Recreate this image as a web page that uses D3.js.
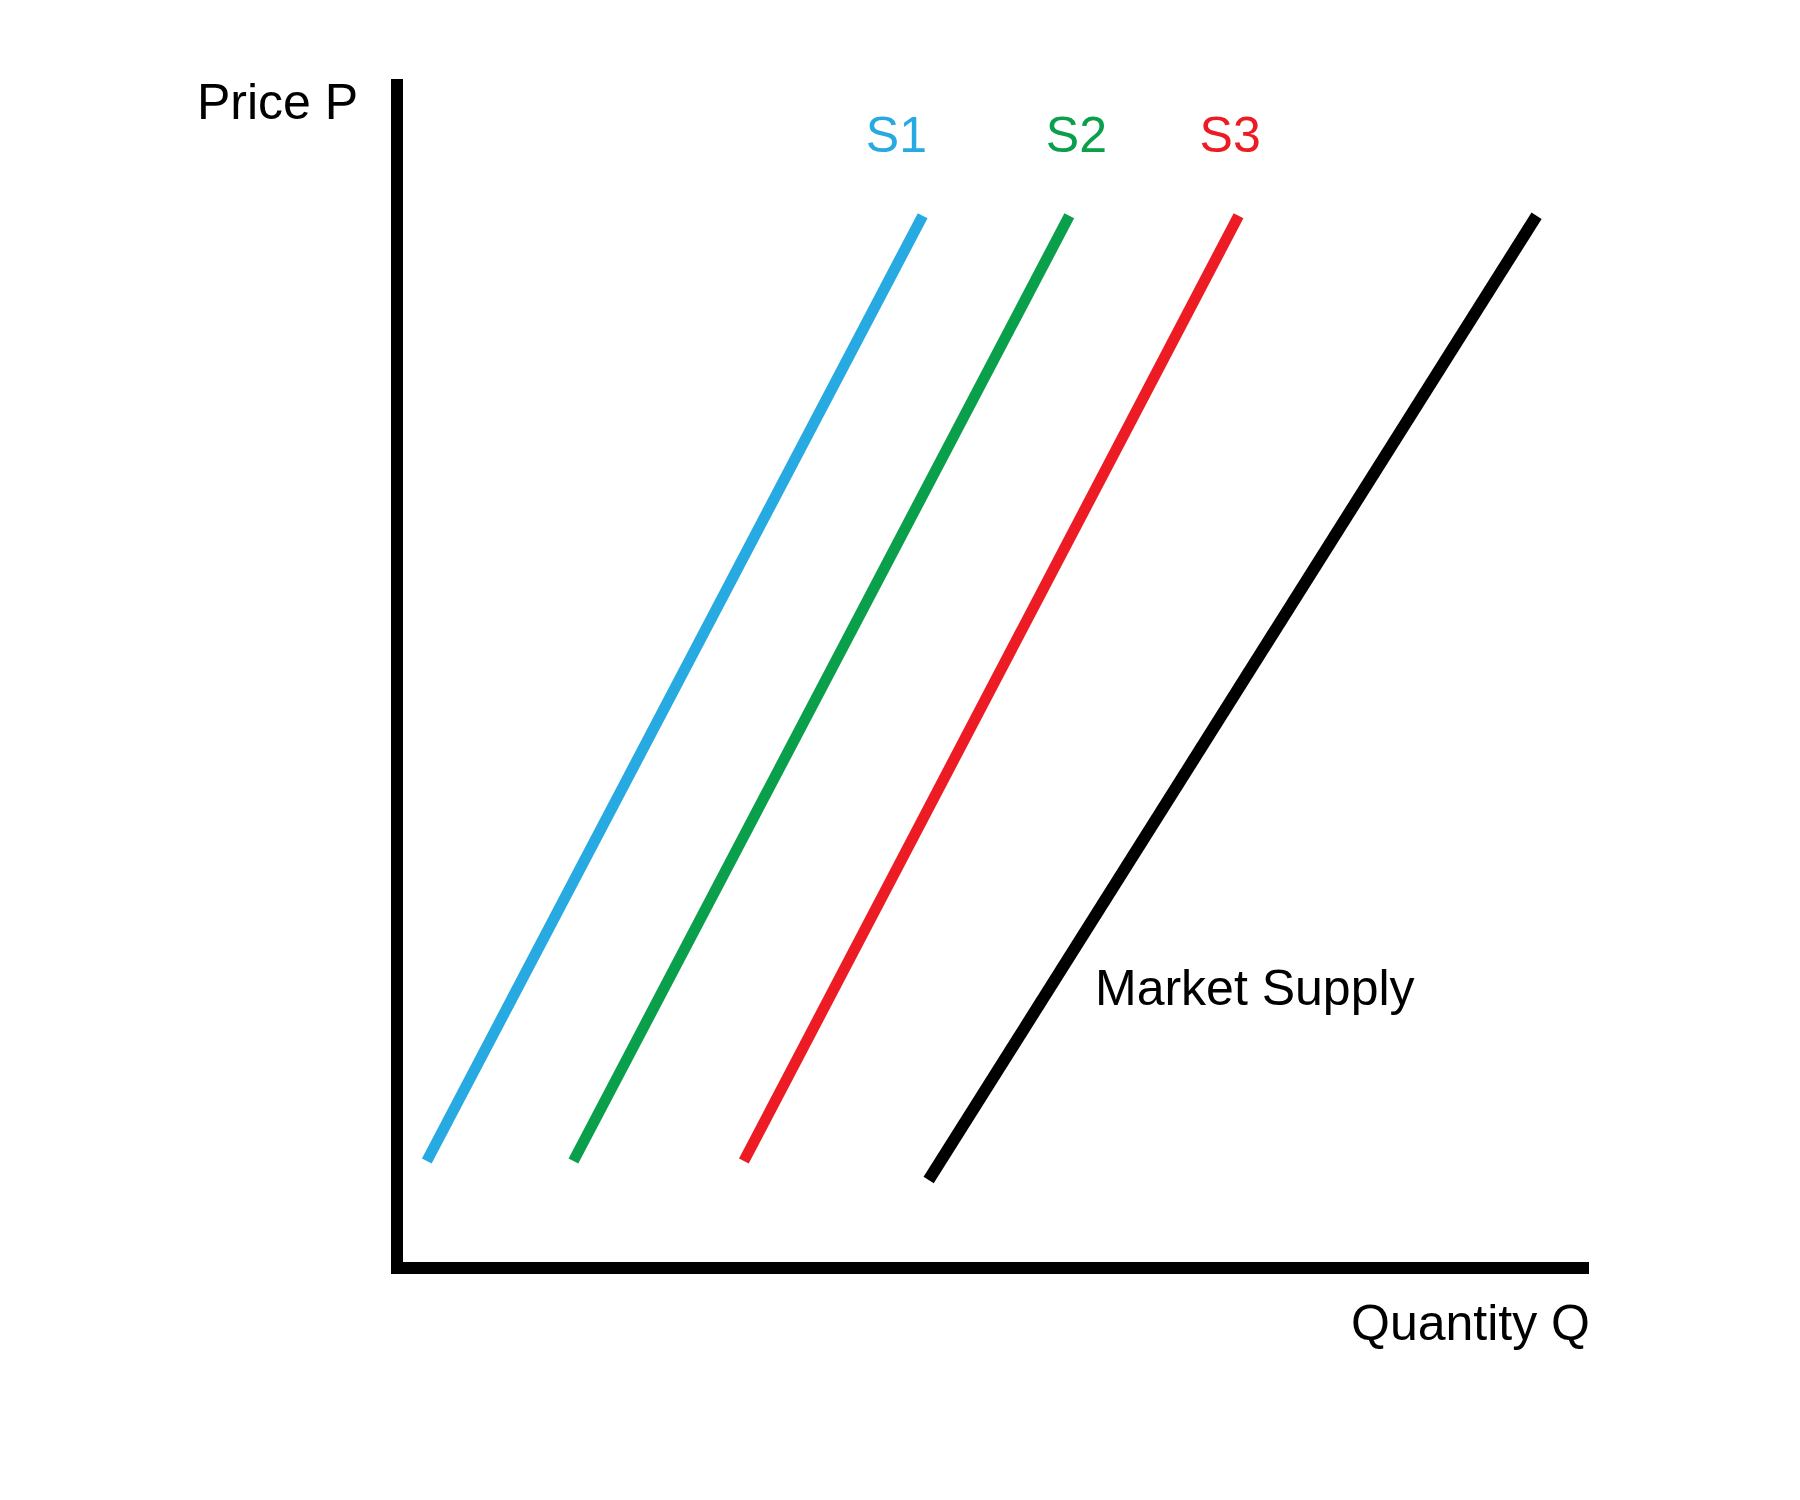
<!DOCTYPE html>
<html>
<head>
<meta charset="utf-8">
<script src="https://cdn.jsdelivr.net/npm/d3@7"></script>
<style>
  html, body { margin: 0; padding: 0; background: #fff; }
  svg { display: block; font-family: "Liberation Sans", Arial, Helvetica, sans-serif; }
</style>
</head>
<body>
<script>
// ---- data (quantity, price in arbitrary units 0..100) ----
const seriesNames = ["S1", "S2", "S3", "Market Supply"];
const seriesColors = ["#27aae1", "#0a9f4a", "#ed1c24", "#000000"];
const qLow  = [2.5, 14.8, 29.1, 44.6];
const pLow  = [9.0, 9.0, 9.0, 7.4];
const qHigh = [44.1, 56.4, 70.6, 95.6];
const pHigh = [88.5, 88.5, 88.5, 88.5];
const axisLabels = ["Price P", "Quantity Q"];

// ---- layout ----
const W = 1800, H = 1500;
const x0 = 397, x1 = 1589, y0 = 1268, y1 = 79;
const x = d3.scaleLinear().domain([0, 100]).range([x0, x1]);
const y = d3.scaleLinear().domain([0, 100]).range([y0, y1]);

const svg = d3.select("body").append("svg").attr("width", W).attr("height", H);
svg.append("rect").attr("width", W).attr("height", H).attr("fill", "#fff");

// axes
svg.append("line")
  .attr("x1", x(0)).attr("x2", x(0))
  .attr("y1", y(100)).attr("y2", y(0) + 6)
  .attr("stroke", "#000").attr("stroke-width", 12);
svg.append("line")
  .attr("x1", x(0) - 6).attr("x2", x(100))
  .attr("y1", y(0)).attr("y2", y(0))
  .attr("stroke", "#000").attr("stroke-width", 12);

// supply lines
seriesNames.forEach((name, i) => {
  svg.append("line")
    .attr("x1", x(qLow[i])).attr("y1", y(pLow[i]))
    .attr("x2", x(qHigh[i])).attr("y2", y(pHigh[i]))
    .attr("stroke", seriesColors[i])
    .attr("stroke-width", i === 3 ? 12 : 11);
});

// series labels
const labelQ = [41.9, 57.0, 69.9];
labelQ.forEach((q, i) => {
  svg.append("text")
    .attr("x", x(q)).attr("y", 152)
    .attr("text-anchor", "middle")
    .attr("font-size", 50)
    .attr("fill", seriesColors[i])
    .text(seriesNames[i]);
});

svg.append("text")
  .attr("x", 1095).attr("y", 1005)
  .attr("font-size", 50)
  .attr("fill", "#000")
  .text(seriesNames[3]);

// axis titles
svg.append("text")
  .attr("x", 197).attr("y", 119)
  .attr("font-size", 50)
  .attr("fill", "#000")
  .text(axisLabels[0]);
svg.append("text")
  .attr("x", 1590).attr("y", 1340)
  .attr("text-anchor", "end")
  .attr("font-size", 50)
  .attr("fill", "#000")
  .text(axisLabels[1]);
</script>
</body>
</html>
